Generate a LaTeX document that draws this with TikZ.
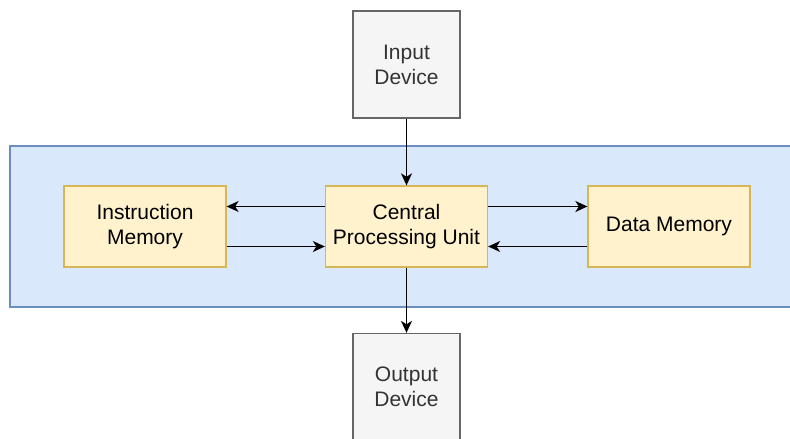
\documentclass[tikz,border=0pt]{standalone}
\usepackage{fontspec}
\setmainfont{Liberation Sans}
\usetikzlibrary{arrows.meta}
\definecolor{bandfill}{HTML}{DAE8FC}
\definecolor{banddraw}{HTML}{6C8EBF}
\definecolor{yfill}{HTML}{FFF2CC}
\definecolor{ydraw}{HTML}{D6B656}
\definecolor{gfill}{HTML}{F5F5F5}
\definecolor{gdraw}{HTML}{666666}
\definecolor{gtext}{HTML}{333333}
\tikzset{
  ybox/.style={draw=ydraw, fill=yfill, line width=1.3pt, minimum width=162pt, minimum height=81pt, align=center, inner sep=0pt, font=\fontsize{21}{25}\selectfont, text=black},
  gbox/.style={draw=gdraw, fill=gfill, line width=1.3pt, minimum width=107pt, minimum height=107pt, align=center, inner sep=0pt, font=\fontsize{21}{25}\selectfont, text=gtext},
  conn/.style={draw=black, line width=1.6pt, -{Stealth[length=12pt,width=11pt,inset=3.5pt]}}
}
\begin{document}
\begin{tikzpicture}[x=1pt,y=-1pt]
\useasboundingbox (0,0) rectangle (790,439);
\fill[bandfill] (10,146) rectangle (800,307);
\draw[banddraw, line width=1.3pt] (800,146) -- (10,146) -- (10,307) -- (800,307);
\node[gbox] (in) at (406.5,64.5) {Input\\Device};
\node[gbox] (out) at (406.5,387) {Output\\Device};
\node[ybox] (im) at (145,226.5) {Instruction\\Memory};
\node[ybox] (cpu) at (406.5,226.5) {Central\\Processing Unit};
\node[ybox] (dm) at (669,226.5) {Data Memory};
\draw[conn] (in) -- (cpu);
\draw[conn] (cpu) -- (out);
\draw[conn] ([yshift=20pt]cpu.west) -- ([yshift=20pt]im.east);
\draw[conn] ([yshift=-20pt]im.east) -- ([yshift=-20pt]cpu.west);
\draw[conn] ([yshift=20pt]cpu.east) -- ([yshift=20pt]dm.west);
\draw[conn] ([yshift=-20pt]dm.west) -- ([yshift=-20pt]cpu.east);
\end{tikzpicture}
\end{document}
